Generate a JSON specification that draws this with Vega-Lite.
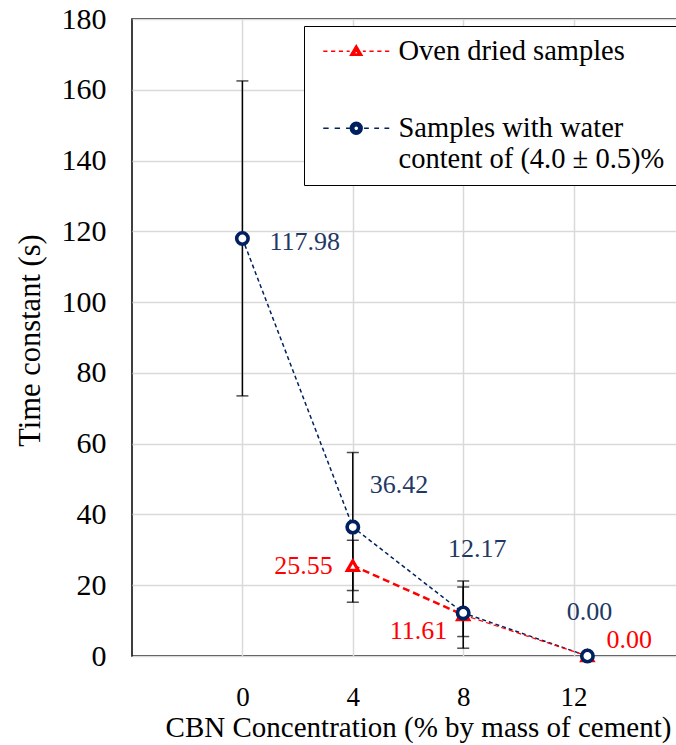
{
  "$schema": "https://vega.github.io/schema/vega-lite/v6.json",
  "width": 552,
  "height": 637,
  "autosize": {"type": "none"},
  "padding": {"left": 132, "top": 19, "right": 0, "bottom": 89},
  "background": "white",
  "config": {
    "font": "Liberation Serif",
    "view": {"stroke": "black", "strokeWidth": 1.5},
    "axis": {
      "domain": false,
      "ticks": false,
      "gridColor": "#d9d9d9",
      "gridWidth": 1.5,
      "labelColor": "black",
      "titleColor": "black",
      "labelFont": "Liberation Serif",
      "titleFont": "Liberation Serif",
      "titleFontWeight": "normal"
    },
    "text": {"font": "Liberation Serif", "fontSize": 26, "baseline": "middle"}
  },
  "datasets": {
    "pts": [
      {"series": "Oven dried samples", "x": 4, "y": 25.55, "lo": 18.5, "hi": 32.7},
      {"series": "Oven dried samples", "x": 8, "y": 11.61, "lo": 5.5, "hi": 19.5},
      {"series": "Oven dried samples", "x": 12.5, "y": 0},
      {"series": "Samples with water content of (4.0 ± 0.5)%", "x": 0, "y": 117.98, "lo": 73.5, "hi": 162.5},
      {"series": "Samples with water content of (4.0 ± 0.5)%", "x": 4, "y": 36.42, "lo": 15.2, "hi": 57.5},
      {"series": "Samples with water content of (4.0 ± 0.5)%", "x": 8, "y": 12.17, "lo": 2.2, "hi": 21.2},
      {"series": "Samples with water content of (4.0 ± 0.5)%", "x": 12.5, "y": 0}
    ]
  },
  "data": {"name": "pts"},
  "layer": [
    {
      "transform": [{"filter": "isValid(datum.lo)"}],
      "mark": {"type": "errorbar", "color": "black", "ticks": {"size": 12, "thickness": 1.5, "color": "black"}, "rule": {"strokeWidth": 1.5, "color": "black"}},
      "encoding": {
        "x": {
          "field": "x", "type": "quantitative",
          "scale": {"domain": [-4, 16], "nice": false, "zero": false},
          "axis": {
            "values": [0, 4, 8, 12],
            "labelFontSize": 27,
            "labelPadding": 28,
            "title": "CBN Concentration (% by mass of cement)",
            "titleFontSize": 29,
            "titleX": 286,
            "titleY": 80,
            "titleAnchor": "middle",
            "titleAlign": "center",
            "titleBaseline": "alphabetic"
          }
        },
        "y": {
          "field": "lo", "type": "quantitative",
          "scale": {"domain": [0, 180], "nice": false},
          "axis": {
            "values": [0, 20, 40, 60, 80, 100, 120, 140, 160, 180],
            "labelFontSize": 30,
            "labelPadding": 26,
            "title": "Time constant (s)",
            "titleFontSize": 30.5,
            "titleX": -102,
            "titleY": 321,
            "titleAngle": -90,
            "titleAlign": "center",
            "titleBaseline": "middle"
          }
        },
        "y2": {"field": "hi"}
      }
    },
    {
      "transform": [{"filter": "datum.series !== 'Oven dried samples'"}],
      "mark": {"type": "line", "color": "#002060", "strokeWidth": 1.5, "strokeDash": [4, 3]},
      "encoding": {
        "x": {"field": "x", "type": "quantitative"},
        "y": {"field": "y", "type": "quantitative"},
        "order": {"field": "x"}
      }
    },
    {
      "transform": [{"filter": "datum.series === 'Oven dried samples' && datum.x <= 8"}],
      "mark": {"type": "line", "color": "#FF0000", "strokeWidth": 2.5, "strokeDash": [7, 4]},
      "encoding": {
        "x": {"field": "x", "type": "quantitative"},
        "y": {"field": "y", "type": "quantitative"},
        "order": {"field": "x"}
      }
    },
    {
      "transform": [{"filter": "datum.series === 'Oven dried samples' && datum.x >= 8"}],
      "mark": {"type": "line", "color": "#FF0000", "strokeWidth": 1.2, "strokeDash": [5, 3]},
      "encoding": {
        "x": {"field": "x", "type": "quantitative"},
        "y": {"field": "y", "type": "quantitative"},
        "order": {"field": "x"}
      }
    },
    {
      "transform": [{"filter": "datum.series === 'Oven dried samples'"}],
      "mark": {"type": "point", "shape": "triangle-up", "filled": false, "fill": "white", "stroke": "#FF0000", "strokeWidth": 3.2, "size": 120, "opacity": 1},
      "encoding": {
        "x": {"field": "x", "type": "quantitative"},
        "y": {"field": "y", "type": "quantitative"}
      }
    },
    {
      "transform": [{"filter": "datum.series !== 'Oven dried samples'"}],
      "mark": {"type": "point", "shape": "circle", "filled": false, "fill": "white", "stroke": "#002060", "strokeWidth": 3.6, "size": 130, "opacity": 1},
      "encoding": {
        "x": {"field": "x", "type": "quantitative"},
        "y": {"field": "y", "type": "quantitative"}
      }
    },
    {
      "transform": [{"filter": "false"}],
      "mark": {"type": "point", "filled": true, "strokeWidth": 1.3, "opacity": 1},
      "encoding": {
        "x": {"field": "x", "type": "quantitative"},
        "y": {"field": "y", "type": "quantitative"},
        "fill": {
          "field": "series", "type": "nominal",
          "scale": {"domain": ["Oven dried samples", "Samples with water content of (4.0 ± 0.5)%"], "range": ["#FF0000", "#002060"]},
          "legend": {
            "title": null,
            "orient": "none",
            "legendX": 172,
            "legendY": 7,
            "direction": "vertical",
            "strokeColor": "black",
            "fillColor": "white",
            "padding": 11,
            "symbolSize": 144,
            "symbolStrokeWidth": 1.3,
            "symbolOffset": 27,
            "labelOffset": 28,
            "rowPadding": 48,
            "labelFont": "Liberation Serif",
            "labelFontSize": 28.5,
            "labelColor": "black",
            "labelLimit": 0,
            "labelExpr": "datum.label === 'Oven dried samples' ? datum.label : ['Samples with water', 'content of (4.0 ± 0.5)%']"
          }
        },
        "stroke": {
          "field": "series", "type": "nominal",
          "scale": {"domain": ["Oven dried samples", "Samples with water content of (4.0 ± 0.5)%"], "range": ["#FF0000", "#002060"]}
        },
        "shape": {
          "field": "series", "type": "nominal",
          "scale": {
            "domain": ["Oven dried samples", "Samples with water content of (4.0 ± 0.5)%"],
            "range": [
              "M-5.5,0H-4.8M-4.2,0H-3.5M-2.9,0H-2.2M-1.6,0H-1.1M0,-1L1,0.7L-1,0.7ZM0,-0.1L-0.4,0.45L0.4,0.45ZM1.1,0H1.6M2.2,0H2.9M3.5,0H4.2M4.8,0H5.5",
              "M-5.5,0H-4.6M-3.6,0H-2.7M-1.7,0H-1.1M1,0A1,1 0 1,1 -1,0A1,1 0 1,1 1,0ZM0.4,0A0.4,0.4 0 1,0 -0.4,0A0.4,0.4 0 1,0 0.4,0ZM1.3,0H2.1M3,0H3.8M4.7,0H5.5"
            ]
          }
        }
      }
    },
    {
      "transform": [{"filter": "datum.series !== 'Oven dried samples' && datum.x === 0"}],
      "mark": {"type": "text", "align": "left", "dx": 27, "dy": 4, "color": "#1F3864"},
      "encoding": {"x": {"field": "x", "type": "quantitative"}, "y": {"field": "y", "type": "quantitative"}, "text": {"field": "y", "type": "quantitative", "format": ".2f"}}
    },
    {
      "transform": [{"filter": "datum.series !== 'Oven dried samples' && datum.x === 4"}],
      "mark": {"type": "text", "align": "left", "dx": 17, "dy": -42, "color": "#1F3864"},
      "encoding": {"x": {"field": "x", "type": "quantitative"}, "y": {"field": "y", "type": "quantitative"}, "text": {"field": "y", "type": "quantitative", "format": ".2f"}}
    },
    {
      "transform": [{"filter": "datum.series !== 'Oven dried samples' && datum.x === 8"}],
      "mark": {"type": "text", "align": "center", "dx": 14, "dy": -64, "color": "#1F3864"},
      "encoding": {"x": {"field": "x", "type": "quantitative"}, "y": {"field": "y", "type": "quantitative"}, "text": {"field": "y", "type": "quantitative", "format": ".2f"}}
    },
    {
      "transform": [{"filter": "datum.series !== 'Oven dried samples' && datum.x === 12.5"}],
      "mark": {"type": "text", "align": "center", "dx": 2, "dy": -44, "color": "#1F3864"},
      "encoding": {"x": {"field": "x", "type": "quantitative"}, "y": {"field": "y", "type": "quantitative"}, "text": {"field": "y", "type": "quantitative", "format": ".2f"}}
    },
    {
      "transform": [{"filter": "datum.series === 'Oven dried samples' && datum.x === 4"}],
      "mark": {"type": "text", "align": "right", "dx": -20, "dy": 0, "color": "#FF0000"},
      "encoding": {"x": {"field": "x", "type": "quantitative"}, "y": {"field": "y", "type": "quantitative"}, "text": {"field": "y", "type": "quantitative", "format": ".2f"}}
    },
    {
      "transform": [{"filter": "datum.series === 'Oven dried samples' && datum.x === 8"}],
      "mark": {"type": "text", "align": "right", "dx": -16, "dy": 16, "color": "#FF0000"},
      "encoding": {"x": {"field": "x", "type": "quantitative"}, "y": {"field": "y", "type": "quantitative"}, "text": {"field": "y", "type": "quantitative", "format": ".2f"}}
    },
    {
      "transform": [{"filter": "datum.series === 'Oven dried samples' && datum.x === 12.5"}],
      "mark": {"type": "text", "align": "left", "dx": 19, "dy": -16, "color": "#FF0000"},
      "encoding": {"x": {"field": "x", "type": "quantitative"}, "y": {"field": "y", "type": "quantitative"}, "text": {"field": "y", "type": "quantitative", "format": ".2f"}}
    }
  ]
}
